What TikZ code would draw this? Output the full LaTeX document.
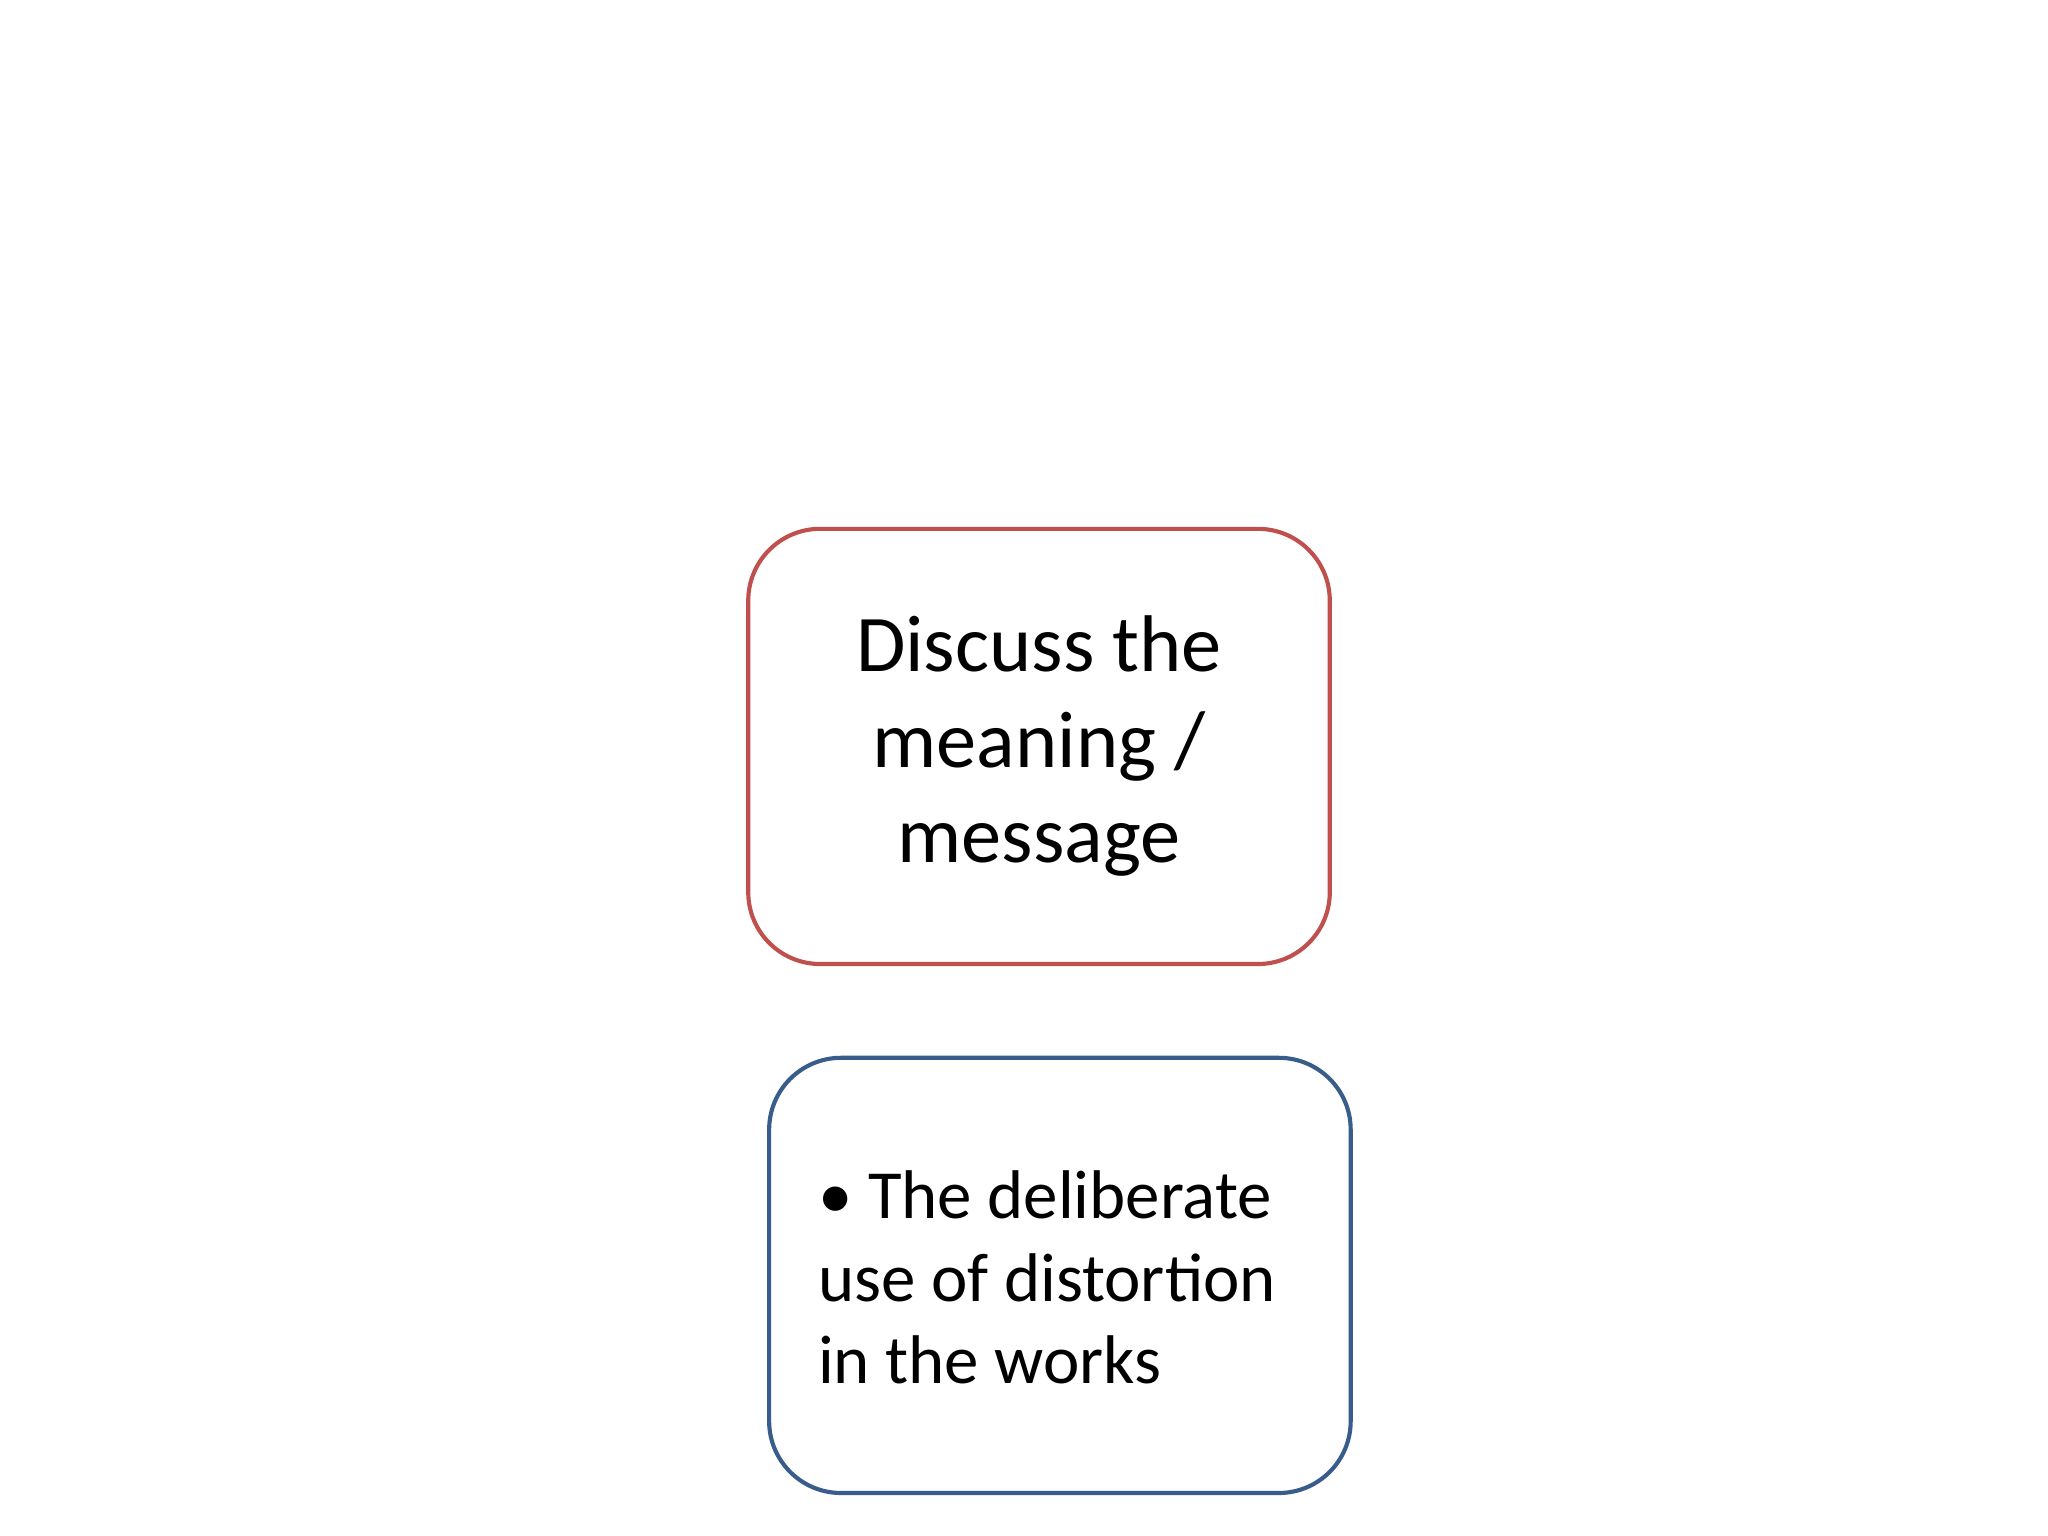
\documentclass[tikz,border=0pt]{standalone}
\usepackage{fontspec}
\setmainfont{Carlito}
\definecolor{redb}{HTML}{C0504D}
\definecolor{blueb}{HTML}{385D8A}
\begin{document}
\begin{tikzpicture}[x=0.01cm,y=0.01cm,
  box/.style={draw, line width=0.9pt, rounded corners=0.55cm, minimum width=4.45cm, minimum height=3.33cm, fill=white}]
\useasboundingbox (0,0) rectangle (1568,1176);
\node[box, draw=redb, align=center, font=\fontsize{17.5}{20.8}\selectfont] (a) at (795.5,604.5) {Discuss the\\meaning /\\message};
\node[box, draw=blueb] (b) at (811.5,199.5) {};
\node[anchor=west, align=left, font=\fontsize{15}{17.9}\selectfont] (bt) at (614,198) {\textbullet\ The deliberate\\use of distortion\\in the works};
\end{tikzpicture}
\end{document}
